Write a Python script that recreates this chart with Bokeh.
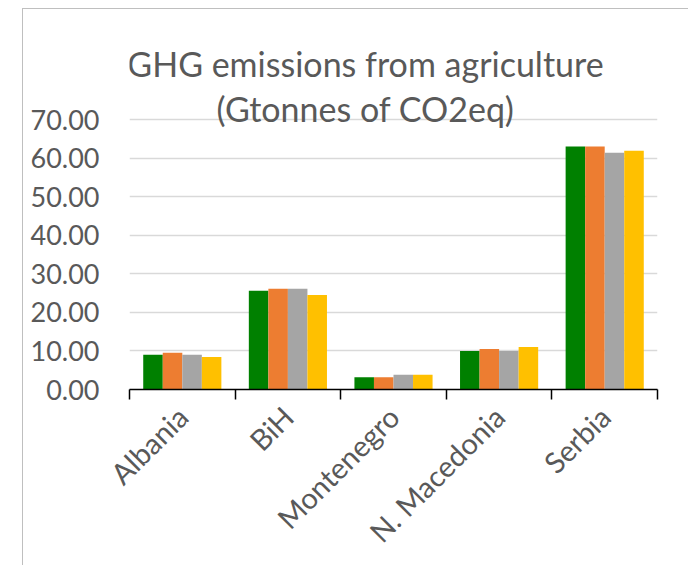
from math import pi
from bokeh.plotting import figure
from bokeh.models import ColumnDataSource, Range1d, FixedTicker, NumeralTickFormatter, Label
from bokeh.embed import file_html
from bokeh.resources import INLINE

# ---- data ----
categories = ["Albania", "BiH", "Montenegro", "N. Macedonia", "Serbia"]
series_names = ["Series 1", "Series 2", "Series 3", "Series 4"]
series1 = [9.0, 25.6, 3.2, 10.0, 63.0]
series2 = [9.5, 26.1, 3.2, 10.5, 63.0]
series3 = [9.0, 26.1, 3.8, 10.0, 61.4]
series4 = [8.4, 24.5, 3.8, 11.0, 61.9]
y_ticks = [0, 10, 20, 30, 40, 50, 60, 70]
title_lines = ["GHG emissions from agriculture", "(Gtonnes of CO2eq)"]

colors = ["#008000", "#ED7D31", "#A5A5A5", "#FFC000"]
all_series = [series1, series2, series3, series4]
n = len(categories)
bar_w = 0.185
offsets = [(j - (len(all_series) - 1) / 2) * bar_w for j in range(len(all_series))]

TXT = "#595959"
FONT = "Lato"

# layout: plotting area for 0..70 is 270 px tall; frame extended upward to hold the title
px_per_unit = 270 / (y_ticks[-1] - y_ticks[0])
frame_h = 380
y_end = y_ticks[0] + frame_h / px_per_unit

p = figure(x_range=Range1d(0, n), y_range=Range1d(y_ticks[0], y_end),
           frame_width=528, frame_height=frame_h,
           min_border_left=106, min_border_right=31, min_border_top=0, min_border_bottom=176,
           output_backend="svg", toolbar_location=None, tools="")
p.styles = {"margin-left": "22px", "margin-top": "8px",
            "border-left": "1px solid #BFBFBF", "border-top": "1px solid #BFBFBF"}
p.outline_line_color = None
p.background_fill_color = "white"
p.border_fill_color = "white"

for j, vals in enumerate(all_series):
    src = ColumnDataSource(dict(x=[i + 0.5 + offsets[j] for i in range(n)], top=vals,
                                cat=categories, name=[series_names[j]] * n))
    p.vbar(x="x", top="top", bottom=0, width=bar_w, source=src, fill_color=colors[j], line_color=None)

# grid
p.xgrid.visible = False
p.ygrid.ticker = FixedTicker(ticks=y_ticks)
p.ygrid.grid_line_color = "#D9D9D9"
p.ygrid.grid_line_width = 1.3

# y axis
ya = p.yaxis[0]
ya.ticker = FixedTicker(ticks=y_ticks)
ya.formatter = NumeralTickFormatter(format="0.00")
ya.axis_line_color = None
ya.major_tick_line_color = None
ya.minor_tick_line_color = None
ya.major_tick_out = 0
ya.major_tick_in = 0
ya.major_label_standoff = 30
ya.major_label_text_font = FONT
ya.major_label_text_font_size = "27px"
ya.major_label_text_color = TXT

# x axis
xa = p.xaxis[0]
centers = [i + 0.5 for i in range(n)]
xa.ticker = FixedTicker(ticks=centers, minor_ticks=list(range(n + 1)))
xa.major_label_overrides = {c: lab for c, lab in zip(centers, categories)}
xa.major_label_orientation = pi / 4
xa.axis_line_color = "black"
xa.axis_line_width = 1.5
xa.major_tick_line_color = None
xa.major_tick_out = 0
xa.major_tick_in = 0
xa.minor_tick_out = 10
xa.minor_tick_in = 0
xa.minor_tick_line_color = "black"
xa.minor_tick_line_width = 1.5
xa.major_label_standoff = 12
xa.major_label_text_font = FONT
xa.major_label_text_font_size = "29px"
xa.major_label_text_color = TXT

# title (two lines), positioned in pixels from the frame's bottom-left
for line, yb in zip(title_lines, [326, 281]):
    p.add_layout(Label(x=236, y=yb, x_units="screen", y_units="screen", text=line,
                       text_align="center", text_baseline="alphabetic",
                       text_font=FONT, text_font_size="34px", text_color=TXT))

open("out.html", "w").write(file_html(p, INLINE))
